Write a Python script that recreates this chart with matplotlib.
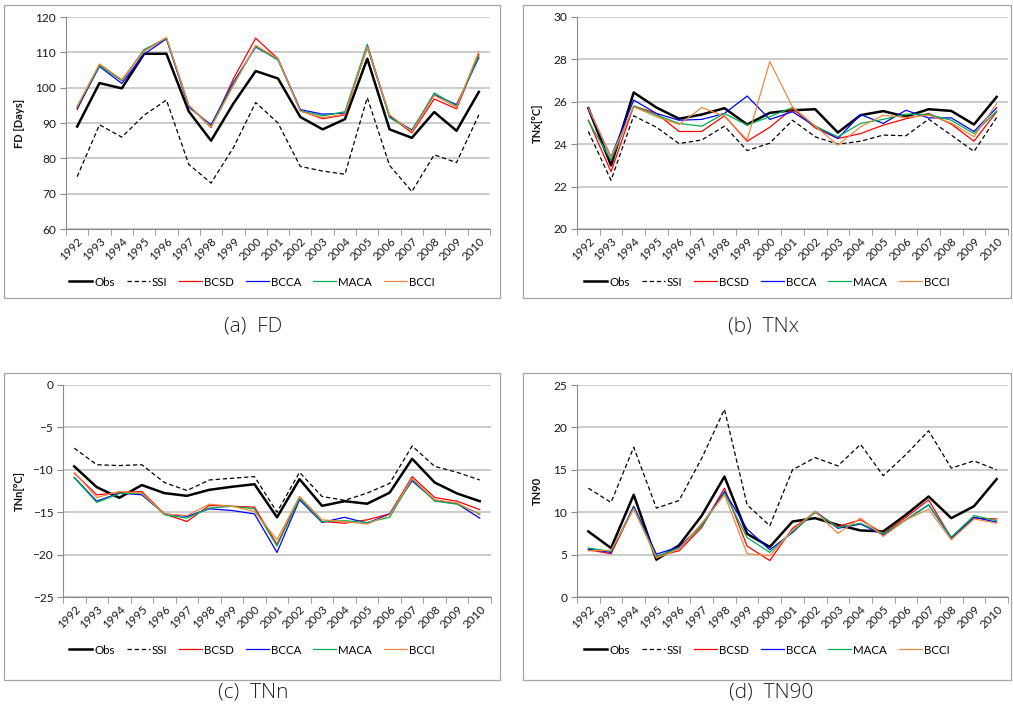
import matplotlib
matplotlib.use("Agg")
import matplotlib.pyplot as plt
from matplotlib.patches import Rectangle
from matplotlib.ticker import MultipleLocator, FixedLocator

plt.rcParams['font.family'] = ['Lato', 'DejaVu Sans']

years = [str(y) for y in range(1992, 2011)]
series_names = ['Obs', 'SSI', 'BCSD', 'BCCA', 'MACA', 'BCCI']

# FD
obs_fd = [89, 101.3, 99.8, 109.6, 109.6, 93.3, 85, 95.5, 104.7, 102.6, 91.7, 88.2, 91.1, 108.2, 88.2, 85.8, 93.1, 87.8, 98.8]
ssi_fd = [74.8, 89.5, 86, 92.2, 96.5, 78.3, 73, 83, 95.8, 90, 77.7, 76.4, 75.5, 97.2, 78, 70.6, 81, 78.8, 92.3]
bcsd_fd = [93.8, 106.5, 102, 110.5, 114, 95, 88.7, 102.5, 114, 108.2, 93.5, 91.2, 92.3, 112, 92, 87.2, 96.8, 94, 109.5]
bcca_fd = [94.2, 106, 101.2, 109.5, 113.8, 94.5, 89.5, 101.5, 111.5, 108, 93.8, 92.5, 92.8, 111.5, 91.8, 88, 98, 95.2, 108.5]
maca_fd = [94.5, 106.3, 102, 110.8, 114, 95, 89, 101, 111.7, 107.8, 93.5, 92, 93.2, 112.3, 91.5, 87.8, 98.5, 94.8, 109]
bcci_fd = [94.8, 106.7, 102.3, 110.3, 114.2, 95, 88.8, 100.5, 112, 108.2, 93.3, 91.5, 92.5, 111.5, 92.3, 87.5, 97.8, 94.5, 110.3]

# TNx
obs_tnx = [25.7, 23.0, 26.44, 25.73, 25.2, 25.4, 25.7, 24.93, 25.48, 25.6, 25.65, 24.55, 25.37, 25.56, 25.3, 25.65, 25.57, 24.93, 26.23]
ssi_tnx = [24.6, 22.3, 25.34, 24.8, 24.03, 24.2, 24.85, 23.7, 24.05, 25.13, 24.35, 24.0, 24.14, 24.43, 24.4, 25.18, 24.43, 23.66, 25.26]
bcsd_tnx = [25.13, 22.7, 25.8, 25.45, 24.6, 24.6, 25.34, 24.14, 24.8, 25.68, 24.77, 24.27, 24.5, 24.9, 25.2, 25.45, 24.95, 24.14, 25.53]
bcca_tnx = [25.68, 23.4, 26.08, 25.45, 25.13, 25.17, 25.45, 26.27, 25.17, 25.53, 24.85, 24.27, 25.4, 24.98, 25.6, 25.24, 25.24, 24.6, 25.72]
maca_tnx = [25.1, 23.25, 25.8, 25.37, 24.98, 24.85, 25.45, 24.9, 25.3, 25.73, 24.85, 24.35, 24.98, 25.17, 25.42, 25.4, 25.13, 24.5, 25.57]
bcci_tnx = [25.7, 23.4, 25.76, 25.3, 24.93, 25.73, 25.32, 24.2, 27.9, 25.76, 24.85, 23.96, 24.82, 25.37, 25.26, 25.37, 25.0, 24.35, 25.92]

# TNn
obs_tnn = [-9.6, -12.05, -13.3, -11.8, -12.75, -13.07, -12.36, -12.0, -11.7, -15.6, -11.1, -14.25, -13.7, -14.0, -12.7, -8.7, -11.5, -12.8, -13.7]
ssi_tnn = [-7.45, -9.4, -9.5, -9.4, -11.5, -12.44, -11.2, -11.0, -10.8, -15.0, -10.3, -13.15, -13.6, -12.75, -11.6, -7.2, -9.6, -10.3, -11.2]
bcsd_tnn = [-10.4, -12.95, -12.7, -12.56, -15.2, -16.1, -14.2, -14.3, -14.4, -18.8, -13.2, -16.1, -16.3, -15.9, -15.2, -10.8, -13.27, -13.7, -14.7]
bcca_tnn = [-10.9, -13.7, -12.75, -12.95, -15.2, -15.5, -14.6, -14.8, -15.2, -19.75, -13.54, -16.2, -15.6, -16.3, -15.2, -11.3, -13.6, -14.0, -15.7]
maca_tnn = [-10.95, -13.85, -12.8, -12.75, -15.3, -15.7, -14.5, -14.3, -14.6, -19.0, -13.35, -16.1, -16.0, -16.2, -15.6, -11.1, -13.7, -14.05, -15.2]
bcci_tnn = [-10.3, -13.27, -12.56, -12.75, -15.2, -15.4, -14.05, -14.3, -14.9, -18.25, -13.15, -15.9, -16.1, -16.4, -15.3, -11.0, -13.54, -13.9, -15.3]

# TN90
obs_tn90 = [7.73, 5.77, 12.05, 4.4, 6.1, 9.6, 14.2, 7.45, 5.9, 8.9, 9.3, 8.5, 7.85, 7.73, 9.7, 11.85, 9.3, 10.7, 13.9]
ssi_tn90 = [12.83, 11.15, 17.66, 10.48, 11.38, 16.37, 22.13, 10.87, 8.4, 15.0, 16.44, 15.46, 18.0, 14.3, 16.8, 19.6, 15.2, 16.05, 15.0]
bcsd_tn90 = [5.57, 5.1, 10.56, 4.8, 5.45, 8.2, 12.83, 6.0, 4.3, 8.1, 9.97, 8.3, 9.1, 7.5, 9.4, 11.45, 6.95, 9.3, 9.2]
bcca_tn90 = [5.65, 5.26, 10.7, 5.06, 5.9, 8.5, 12.44, 8.0, 5.57, 7.6, 10.1, 8.1, 8.6, 7.34, 9.1, 10.87, 6.95, 9.4, 8.83]
maca_tn90 = [5.77, 5.38, 10.48, 4.8, 5.77, 8.4, 12.25, 7.0, 5.26, 7.73, 9.97, 8.2, 8.7, 7.46, 9.1, 10.87, 7.06, 9.6, 9.0]
bcci_tn90 = [5.45, 5.5, 10.4, 4.6, 5.65, 8.7, 12.05, 5.1, 4.87, 7.9, 10.1, 7.5, 9.3, 7.15, 9.1, 10.36, 6.75, 9.2, 8.7]

colors = ['black', 'black', '#FF0000', '#0000FF', '#00B050', '#F0883E']
widths = [1.8, 0.9, 0.9, 0.9, 0.9, 0.9]
styles = ['-', (0, (3.5, 2.2)), '-', '-', '-', '-']

W, H = 1013, 711
fig = plt.figure(figsize=(W / 100, H / 100), dpi=100)


def fx(px):
    return px / W


def fy(px):
    return 1 - px / H


panels = [
    # data, ylabel, ylim, step, axes box (px), panel box (px), caption, caption pos, legend y, ylabel x
    ([obs_fd, ssi_fd, bcsd_fd, bcca_fd, maca_fd, bcci_fd], 'FD [Days]', (60, 120), 10,
     (66, 17, 490, 229), (4, 5, 500, 298), '(a)  FD', (253, 327), 282, -0.097),
    ([obs_tnx, ssi_tnx, bcsd_tnx, bcca_tnx, maca_tnx, bcci_tnx], 'TNx[°C]', (20, 30), 2,
     (577, 17, 1008, 229), (523, 5, 1011, 298), '(b)  TNx', (764, 327), 282, -0.079),
    ([obs_tnn, ssi_tnn, bcsd_tnn, bcca_tnn, maca_tnn, bcci_tnn], 'TNn[°C]', (-25, 0), 5,
     (63, 385, 491, 597), (4, 373, 500, 680), '(c)  TNn', (253, 693), 650, -0.089),
    ([obs_tn90, ssi_tn90, bcsd_tn90, bcca_tn90, maca_tn90, bcci_tn90], 'TN90', (0, 25), 5,
     (577, 385, 1008, 597), (523, 373, 1011, 680), '(d)  TN90', (771, 693), 650, -0.079),
]

x = list(range(len(years)))
grid_c = '#BEBEBE'
spine_c = '#8C8C8C'

for data, ylab, ylim, step, abox, pbox, cap, cpos, legy, ylx in panels:
    # grey frame round each panel
    fig.patches.append(Rectangle((fx(pbox[0]), fy(pbox[3])), fx(pbox[2] - pbox[0]),
                                 (pbox[3] - pbox[1]) / H, transform=fig.transFigure,
                                 fill=False, edgecolor='#A6A6A6', linewidth=0.9))
    ax = fig.add_axes([fx(abox[0]), fy(abox[3]), fx(abox[2] - abox[0]), (abox[3] - abox[1]) / H])
    lines = []
    for vals, name, c, lw, ls in zip(data, series_names, colors, widths, styles):
        ln, = ax.plot(x, vals, color=c, lw=lw, linestyle=ls, label=name, zorder=3)
        lines.append(ln)

    ax.set_xlim(-0.5, len(years) - 0.5)
    ax.set_ylim(*ylim)
    ax.yaxis.set_major_locator(MultipleLocator(step))
    ax.grid(axis='y', color=grid_c, lw=1.1)
    ax.set_axisbelow(True)
    for s in ['top', 'right']:
        ax.spines[s].set_visible(False)
    ax.spines['left'].set_color(spine_c)
    ax.spines['bottom'].set_color(spine_c)

    ax.set_xticks(x)
    ax.set_xticklabels(years, rotation=45, ha='right', rotation_mode='anchor', fontsize=8.3, color='#1a1a1a')
    ax.xaxis.set_minor_locator(FixedLocator([i - 0.5 for i in range(len(years) + 1)]))
    ax.tick_params(axis='x', which='major', length=0, pad=5)
    ax.tick_params(axis='x', which='minor', length=4, color=spine_c)
    ax.tick_params(axis='y', length=4, color=spine_c, labelsize=8.6, labelcolor='#1a1a1a', pad=3)

    ax.set_ylabel(ylab, fontsize=8, fontweight='bold', color='#111111')
    ax.yaxis.set_label_coords(ylx, 0.5)

    cx = (pbox[0] + pbox[2]) / 2
    fig.legend(lines, series_names, loc='center', bbox_to_anchor=(fx(cx), fy(legy)),
               bbox_transform=fig.transFigure, ncol=6, frameon=False, fontsize=8.3,
               handlelength=2.0, handletextpad=0.2, columnspacing=1.0, borderaxespad=0)

    fig.text(fx(cpos[0]), fy(cpos[1]), cap, ha='center', va='center', fontsize=15,
             family=['Open Sans', 'DejaVu Sans'], fontweight='light', color='#222222')

fig.savefig('out.png', dpi=100)
